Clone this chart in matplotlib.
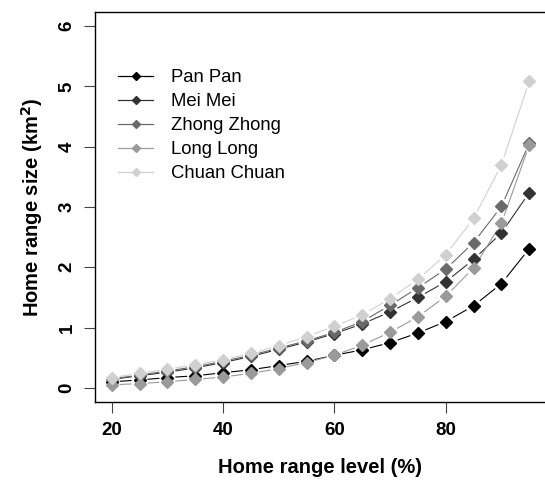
#!/usr/bin/env python3

import matplotlib
matplotlib.use('Agg')
import matplotlib.pyplot as plt
import numpy as np
from matplotlib.lines import Line2D

# ======================================================================
# Data.
# ======================================================================

levels = [20, 25, 30, 35, 40, 45, 50, 55, 60, 65, 70, 75, 80, 85, 90, 95]

pan_pan = [0.10, 0.13, 0.17, 0.20, 0.25, 0.30, 0.37, 0.44,
           0.54, 0.63, 0.75, 0.91, 1.10, 1.36, 1.73, 2.31]
mei_mei = [0.14, 0.20, 0.26, 0.33, 0.42, 0.52, 0.64, 0.76,
           0.90, 1.06, 1.26, 1.50, 1.76, 2.13, 2.57, 3.24]
zhong_zhong = [0.15, 0.21, 0.28, 0.35, 0.44, 0.54, 0.66, 0.78,
               0.92, 1.10, 1.37, 1.66, 1.97, 2.41, 3.01, 4.06]
long_long = [0.05, 0.07, 0.10, 0.14, 0.18, 0.24, 0.32, 0.42,
             0.54, 0.71, 0.92, 1.18, 1.52, 1.99, 2.73, 4.03]
chuan_chuan = [0.17, 0.24, 0.31, 0.38, 0.47, 0.57, 0.70, 0.85,
               1.02, 1.21, 1.48, 1.80, 2.21, 2.81, 3.70, 5.09]

names = ['Pan Pan', 'Mei Mei', 'Zhong Zhong', 'Long Long', 'Chuan Chuan']
series = [pan_pan, mei_mei, zhong_zhong, long_long, chuan_chuan]
greys = ['#000000', '#333333', '#6a6a6a', '#9a9a9a', '#d0d0d0']

plt.rcParams['font.family'] = ['Liberation Sans', 'DejaVu Sans']

# ======================================================================
# R style type="b": line segments stopping short of the points.
# ======================================================================

def gapped_line(ax, x, y, color, gap=8.0):
    pts = ax.transData.transform(np.column_stack([x, y]))
    inv = ax.transData.inverted()
    for p0, p1 in zip(pts[:-1], pts[1:]):
        d = p1 - p0
        n = np.hypot(*d)
        if (n <= 2*gap):
            continue
        u = d/n
        a = inv.transform(p0 + u*gap)
        b = inv.transform(p1 - u*gap)
        ax.plot([a[0], b[0]], [a[1], b[1]], color=color, lw=0.8,
                solid_capstyle='butt', zorder=2)

# ======================================================================
# Figure.
# ======================================================================

fig = plt.figure(figsize=(5.45, 4.83), dpi=100)
ax = fig.add_axes([95/545, 1-402.3/483, 451/545, 390.6/483])
ax.set_xlim(17, 98)
ax.set_ylim(-0.24, 6.24)

for vals, col in zip(series, greys):
    gapped_line(ax, levels, vals, col)
    ax.plot(levels, vals, ls='none', marker='D', ms=6.5,
            color=col, mec=col, zorder=3)

ax.set_xticks([20, 40, 60, 80])
ax.set_yticks(range(7))
ax.tick_params(length=8, width=0.8, color='#444444', labelsize=13.5, pad=6)
for lab in ax.get_xticklabels():
    lab.set_fontweight('bold')
for lab in ax.get_yticklabels():
    lab.set_fontweight('bold')
    lab.set_rotation(90)
    lab.set_va('center')

for s in ax.spines.values():
    s.set_linewidth(1.0)

ax.set_xlabel('Home range level (%)', fontsize=14.5, fontweight='bold',
              labelpad=14)
ax.set_ylabel('Home range size (km$^\\mathbf{2}$)', fontsize=14.5,
              fontweight='bold', labelpad=10)

handles = [Line2D([0], [0], color=c, lw=0.9, marker='D', ms=4, mec=c)
           for c in greys]
ax.legend(handles, names, loc='upper left', frameon=False,
          bbox_to_anchor=(111/545, 1-62/483), bbox_transform=fig.transFigure,
          fontsize=13.3, handlelength=1.9, handletextpad=0.95,
          labelspacing=0.38, borderaxespad=0)

fig.savefig('out.png', dpi=100)
plt.close()
